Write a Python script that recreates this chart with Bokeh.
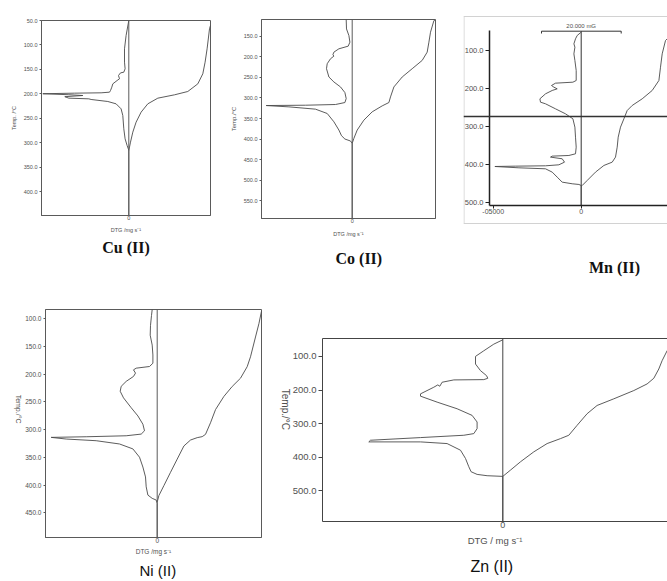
import math
from bokeh.plotting import figure
from bokeh.layouts import column, row
from bokeh.models import Range1d, FixedTicker, Span, Label, LinearAxis, PrintfTickFormatter
from bokeh.embed import file_html
from bokeh.resources import INLINE

# ---------------- data (DTG offset from zero line, temperature in deg C) ----------------
cu_dtg_T = [50, 80.6, 107.8, 135, 148.6, 155.5, 156.9, 162.3, 169.0, 172.5, 179.3, 186.1, 192.9, 196.3,
            197.6, 198.3, 199.5, 201.5, 203.1, 205.5, 208.5, 209.9, 211.2, 215.3, 220.1, 230.3, 243.9,
            271.1, 291.5, 305.1, 311.9, 315.3, 448]
cu_dtg_x = [0, -2.7, -4.3, -4.3, -3.7, -5, -8.3, -10.3, -9.3, -11.7, -16, -17, -18.3, -19.3,
            -27.7, -54.3, -86, -60, -46, -64, -60, -40, -37.7, -21, -12.7, -7.7, -6,
            -5, -3.7, -1.7, -0.5, 0, 0]
cu_tg_T = [60, 67, 107.8, 135, 158.8, 179.3, 194.9, 201.7, 208.5, 220.1, 237.1, 257.5, 277.9, 298.3, 315.3]
cu_tg_x = [81.7, 80.7, 78.3, 76.3, 74, 69, 59, 45.7, 29, 19, 12.3, 7.3, 4, 1.7, 0]

co_dtg_T = [109.4, 132.3, 148.4, 164.5, 174.2, 180.6, 188.7, 195.1, 198.4, 204.8, 216.9, 229, 249.1,
            261.2, 273.3, 287, 301.5, 311.2, 316, 317.7, 318.5, 321.7, 327.3, 337.8, 358, 378.1,
            391.8, 399.9, 404.7, 410.3, 593]
co_dtg_x = [-6, -5.7, -3.3, -2.3, -4, -13.3, -18.3, -19.3, -18.3, -21.7, -25, -25.7, -23.3,
            -18.3, -11.7, -7.3, -6, -7.3, -16.7, -46.7, -86, -63.3, -36.7, -25, -18.3, -13.3,
            -10.7, -7.3, -1.7, 0, 0]
co_tg_T = [110, 112.1, 140.3, 164.5, 188.7, 208.8, 229, 249.1, 273.3, 297.5, 311.2, 319.3, 333.8,
           353.9, 378.1, 398.2, 410.3]
co_tg_x = [83.3, 81.7, 78.3, 76.7, 75, 70, 60, 50, 41.7, 38.3, 36.7, 30, 20, 11.7, 5, 1.7, 0]

mn_dtg_T = [51.9, 60.6, 69.4, 82.5, 91.3, 108.8, 126.3, 152.6, 178.8, 183.2, 185.8, 191.9, 196.3,
            200.7, 205, 213.8, 226.9, 235.7, 240, 253.2, 266.3, 279.4, 301.3, 327.6, 353.8, 371.3,
            375.7, 377.4, 380, 384.4, 393.2, 400.2, 402.8, 403.7, 404.6, 408.1, 410.7, 419.4,
            432.6, 445.7, 450, 451.8, 454.5, 507]
mn_dtg_x = [0, -4, -5.7, -7.3, -6.3, -7.3, -6.3, -5, -5, -8.3, -25.7, -29.7, -27.3,
            -24, -29, -35.7, -41.3, -40.7, -35.7, -25.7, -15.7, -8.3, -6.3, -5.7, -5, -5.7,
            -12.3, -29, -30.7, -19, -16.7, -22.3, -35.7, -65.7, -86.3, -62.3, -35.7, -29,
            -24, -19, -9, -2.3, 0, 0]
mn_tg_T = [50, 69.4, 73.8, 108.8, 143.8, 178.8, 205, 226.9, 244.4, 257.6, 279.4, 301.3, 327.6,
           353.8, 380, 393.2, 401.9, 419.4, 441.3, 454.5, 456]
mn_tg_x = [95, 86, 84.3, 81, 79.3, 77.7, 71, 61, 51, 46, 42.7, 39.3, 37,
           36, 34.3, 31, 22.7, 14.3, 6, 1, 0]

ni_dtg_T = [83.4, 94.1, 111.9, 129.7, 147.5, 165.3, 180.2, 186.1, 189.1, 192.1, 198, 204, 212.9,
            221.8, 230.7, 242.6, 260.4, 275.2, 290.1, 302, 307.9, 310.9, 312.7, 313.8, 316.8,
            319.8, 325.7, 334.6, 349.5, 367.3, 385.1, 402.9, 417.8, 423.7, 426.7, 432.6, 494.2]
ni_dtg_x = [-5, -5.7, -6.7, -7, -5, -4.3, -4.3, -7.7, -21, -23.7, -21.7, -23.7, -31,
            -36, -37, -33.7, -26, -19.3, -14.3, -12.7, -16, -31, -71, -106, -91,
            -61, -37.7, -24.3, -17.7, -14.3, -11.7, -11, -9.3, -5, -1, 0, 0]
ni_tg_T = [86.4, 109, 132.9, 168.6, 186.4, 207.2, 222.1, 240, 263.8, 287.5, 308.4, 312.5, 314.3,
           318.6, 329.3, 353, 376.8, 400.7, 418.6, 430.4]
ni_tg_x = [104.3, 101.7, 98.3, 93.3, 90, 83.3, 75, 66.7, 58.3, 53.3, 48.3, 45, 40,
           33.3, 26.7, 20, 13.3, 6.7, 1.7, 0]

zn_dtg_T = [50.7, 63.6, 83.3, 100, 122.7, 142.4, 157.1, 165, 169, 169.9, 176.8, 188.7, 184.7, 191.6,
            211.3, 218.2, 235.9, 255.6, 275.3, 295, 314.7, 329.5, 334.4, 341.3, 349.2, 354.1,
            354.1, 359.1, 378.8, 403.4, 428, 442.8, 450.7, 454.6, 456.6, 590.7]
zn_dtg_x = [0, -9, -19, -27.3, -27.3, -22.3, -16.3, -15, -19, -49, -60.7, -63, -65, -69,
            -82.3, -82.3, -65.7, -45.7, -30.7, -25.7, -25.7, -29, -39, -82.3, -132.3, -134,
            -82.3, -55.7, -42.3, -37.3, -34, -31.7, -25.7, -15.7, 0, 0]
zn_tg_T = [60, 83.3, 112.8, 137.4, 165, 181.8, 201.5, 226.1, 245.8, 270.4, 304.9, 334.4, 344.3,
           359.1, 383.7, 413.2, 437.9, 456.6]
zn_tg_x = [172, 164.3, 159.3, 156, 151, 144.3, 131, 111, 94.3, 84.3, 74.3, 66, 57.7,
           44.3, 31, 17.7, 7.7, 0]

cu_ticks = [50, 100, 150, 200, 250, 300, 350, 400]
co_ticks = [150, 200, 250, 300, 350, 400, 450, 500, 550]
mn_ticks = [100, 200, 300, 400, 500]
ni_ticks = [100, 150, 200, 250, 300, 350, 400, 450]
zn_ticks = [100, 200, 300, 400, 500]
mn_x_ticks = [-88, 0, 88]
mn_x_labels = ["-05000", "0", "05000"]

titles = ["Cu (II)", "Co (II)", "Mn (II)", "Ni (II)", "Zn (II)"]
y_label = "Temp./°C"
x_label = "DTG /mg s⁻¹"

CURVE = "#4a4a4a"
FRAME = "#5a5a5a"
TXT = "#505050"
SANS = "Liberation Sans"
SERIF = "Liberation Serif"


def panel(g, width, height, bl, br, bt, bb, outline=True):
    p = figure(width=width, height=height,
               x_range=Range1d(g["x0"], g["x1"]), y_range=Range1d(g["ybot"], g["ytop"]),
               output_backend="svg", toolbar_location=None,
               min_border_left=bl, min_border_right=br, min_border_top=bt, min_border_bottom=bb,
               background_fill_color="white", border_fill_color="white")
    p.grid.visible = False
    p.outline_line_color = FRAME if outline else None
    return p


def to_data(g, sx, sy):
    x = g["x0"] + (sx - g["fl"]) / g["fw"] * (g["x1"] - g["x0"])
    y = g["ytop"] + (sy - g["ft"]) / g["fh"] * (g["ybot"] - g["ytop"])
    return x, y


def set_title(p, text, font, size, style, standoff, align="center", offset=0):
    p.title.text = text
    p.title_location = "below"
    p.title.align = align
    p.title.offset = offset
    p.title.text_font = font
    p.title.text_font_size = size
    p.title.text_font_style = style
    p.title.text_color = "#111111"
    p.title.standoff = standoff


def style_y(ax, ticks, size, tick_out, label=None, label_size="6px", orient=None, color=FRAME, width=1):
    ax.ticker = FixedTicker(ticks=ticks)
    ax.formatter = PrintfTickFormatter(format="%.1f")
    ax.major_label_text_font = SANS
    ax.major_label_text_font_size = size
    ax.major_label_text_color = TXT
    ax.major_tick_out = tick_out
    ax.major_tick_in = 0
    ax.minor_tick_out = 0
    ax.minor_tick_in = 0
    ax.major_label_standoff = 2
    ax.axis_line_color = color
    ax.axis_line_width = width
    ax.major_tick_line_color = color
    if label:
        ax.axis_label = label
        ax.axis_label_text_font = SANS
        ax.axis_label_text_font_size = label_size
        ax.axis_label_text_font_style = "normal"
        ax.axis_label_text_color = TXT
        ax.axis_label_standoff = 4
        if orient is not None:
            ax.axis_label_orientation = orient


def style_x(ax, size, label, label_size, tick_out=0, ticks=(0,), labels=None, color=FRAME, width=1,
            label_standoff=0, axis_standoff=4):
    ax.ticker = FixedTicker(ticks=list(ticks))
    if labels:
        ax.major_label_overrides = {t: l for t, l in zip(ticks, labels)}
    ax.major_label_text_font = SANS
    ax.major_label_text_font_size = size
    ax.major_label_text_color = TXT
    ax.major_tick_out = tick_out
    ax.major_tick_in = 0
    ax.minor_tick_out = 0
    ax.minor_tick_in = 0
    ax.major_label_standoff = label_standoff
    ax.axis_line_color = color
    ax.axis_line_width = width
    ax.major_tick_line_color = color
    if label:
        ax.axis_label = label
        ax.axis_label_text_font = SANS
        ax.axis_label_text_font_size = label_size
        ax.axis_label_text_font_style = "normal"
        ax.axis_label_text_color = TXT
        ax.axis_label_standoff = axis_standoff


# ---------------- Cu ----------------
g_cu = dict(fl=41, ft=20, fw=169, fh=195, x0=-87.3, x1=81.7, ytop=50, ybot=448)
cu = panel(g_cu, 224, 290, 41, 14, 20, 75)
style_y(cu.yaxis[0], cu_ticks, "5.5px", 2, "Temp. /°C", "5.5px")
style_x(cu.xaxis[0], "5.5px", x_label, "5.5px", axis_standoff=4)
cu.add_layout(Span(location=0, dimension="height", line_color=FRAME, line_width=1))
cu.line(cu_dtg_x, cu_dtg_T, line_color=CURVE, line_width=0.9)
cu.line(cu_tg_x, cu_tg_T, line_color=CURVE, line_width=0.9)
set_title(cu, titles[0], SERIF, "16px", "bold", 3)

# ---------------- Co ----------------
g_co = dict(fl=261, ft=19, fw=174, fh=199, x0=-90.7, x1=83.3, ytop=109.4, ybot=593)
co = panel(g_co, 212, 290, 37, 1, 19, 72)
style_y(co.yaxis[0], co_ticks, "5.5px", 2, y_label, "6px")
style_x(co.xaxis[0], "5.5px", x_label, "5.5px", axis_standoff=5)
co.add_layout(Span(location=0, dimension="height", line_color=FRAME, line_width=1))
co.line(co_dtg_x, co_dtg_T, line_color=CURVE, line_width=0.9)
co.line(co_tg_x, co_tg_T, line_color=CURVE, line_width=0.9)
set_title(co, titles[1], SERIF, "16px", "bold", 16, align="left", offset=74)

# ---------------- Mn ----------------
g_mn = dict(fl=463, ft=15, fw=204, fh=261, x0=-117.7, x1=86.3, ytop=8.1, ybot=693.5)
mn = panel(g_mn, 231, 290, 27, 0, 15, 14, outline=False)
style_y(mn.yaxis[0], mn_ticks, "7.5px", 4, None, color="#222222", width=1.5)
mn.yaxis[0].bounds = (47.5, 507)
mn.yaxis[0].fixed_location = -91.7
style_x(mn.xaxis[0], "7px", None, None, tick_out=3, ticks=mn_x_ticks, labels=mn_x_labels,
        color="#222222", width=1.5, label_standoff=1)
mn.xaxis[0].fixed_location = 507
mn.xaxis[0].bounds = (-91.7, 86.3)
g_top = to_data(g_mn, 0, 16)[1]
g_bot = to_data(g_mn, 0, 223)[1]
g_left = to_data(g_mn, 463.5, 0)[0]
for sy in (g_top, g_bot):
    mn.add_layout(Span(location=sy, dimension="width", line_color="#d2d2d2", line_width=1))
mn.segment(x0=[g_left], y0=[g_top], x1=[g_left], y1=[g_bot], line_color="#d2d2d2", line_width=1)
mn.add_layout(Span(location=273.3, dimension="width", line_color="#333333", line_width=1.5))
bar_y = to_data(g_mn, 0, 30.7)[1]
bar_y2 = to_data(g_mn, 0, 33)[1]
mn.segment(x0=[0, -39.7, -39.7, 40], y0=[bar_y, bar_y, bar_y, bar_y],
           x1=[0, 40, -39.7, 40], y1=[507, bar_y, bar_y2, bar_y2], line_color="#333333", line_width=1)
tx, ty = to_data(g_mn, 580.7, 25)
mn.add_layout(Label(x=tx, y=ty, text="20.000 mG", text_align="center", text_baseline="middle",
                    text_font=SANS, text_font_size="6px", text_color=TXT))
mn.line(mn_dtg_x, mn_dtg_T, line_color=CURVE, line_width=0.9)
mn.line(mn_tg_x, mn_tg_T, line_color=CURVE, line_width=0.9)
mx, my = to_data(g_mn, 614, 267)
mn.add_layout(Label(x=mx, y=my, text=titles[2], text_align="center", text_baseline="middle",
                    text_font=SERIF, text_font_size="16px", text_font_style="bold", text_color="#111111"))
mn.title.visible = False

# ---------------- Ni ----------------
g_ni = dict(fl=45, ft=309, fw=216, fh=230, x0=-111.7, x1=104.3, ytop=83.4, ybot=494.2)
ni = panel(g_ni, 270, 291, 45, 9, 19, 42)
style_y(ni.yaxis[0], ni_ticks, "6.5px", 2, y_label, "7px", orient=-math.pi / 2)
style_x(ni.xaxis[0], "6.5px", x_label, "6.5px", axis_standoff=2)
ni.add_layout(Span(location=0, dimension="height", line_color=FRAME, line_width=1))
ni.line(ni_dtg_x, ni_dtg_T, line_color=CURVE, line_width=0.9)
ni.line(ni_tg_x, ni_tg_T, line_color=CURVE, line_width=0.9)
set_title(ni, titles[3], SANS, "15px", "normal", 5, align="left", offset=94)

# ---------------- Zn ----------------
g_zn = dict(fl=322, ft=338, fw=345, fh=184, x0=-180.3, x1=164.7, ytop=46.8, ybot=590.7)
zn = panel(g_zn, 397, 291, 52, 0, 48, 59, outline=False)
style_y(zn.yaxis[0], zn_ticks, "9.5px", 4, y_label, "10px", orient=-math.pi / 2, color="#444444")
style_x(zn.xaxis[0], "9px", "DTG / mg s⁻¹", "9.5px", color="#444444", axis_standoff=4)
top_ax = LinearAxis(ticker=FixedTicker(ticks=[]), axis_line_color="#444444",
                    major_label_text_font_size="0px", major_tick_out=0, minor_tick_out=0)
zn.add_layout(top_ax, "above")
zn.add_layout(Span(location=0, dimension="height", line_color="#444444", line_width=1))
zn.line(zn_dtg_x, zn_dtg_T, line_color=CURVE, line_width=0.9)
zn.line(zn_tg_x, zn_tg_T, line_color=CURVE, line_width=0.9)
set_title(zn, titles[4], SANS, "16px", "normal", 14, align="left", offset=148)

layout = column(row(column(cu), column(co), column(mn)), row(column(ni), column(zn)))
open("out.html", "w").write(file_html(layout, INLINE))
